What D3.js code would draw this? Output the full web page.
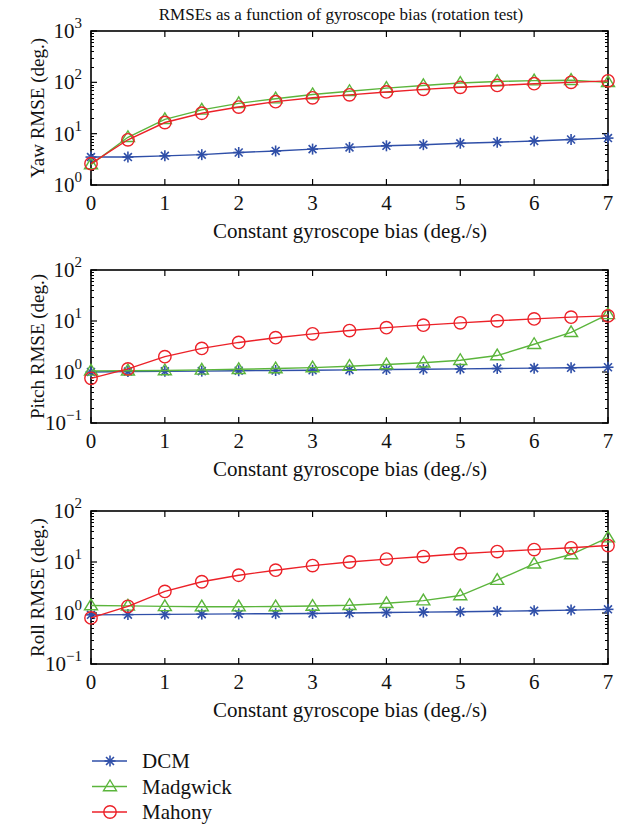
<!DOCTYPE html>
<html>
<head>
<meta charset="utf-8">
<script src="https://cdn.jsdelivr.net/npm/d3@7/dist/d3.min.js"></script>
<style>
  body { margin: 0; background: #fff; }
</style>
</head>
<body>
<svg id="chart" width="621" height="827"></svg>
<script>
// gyroscope bias steps (deg./s)
var bias = [0, 0.5, 1, 1.5, 2, 2.5, 3, 3.5, 4, 4.5, 5, 5.5, 6, 6.5, 7];

var yawDCM      = [3.5, 3.5, 3.7, 3.9, 4.3, 4.6, 5.0, 5.4, 5.8, 6.1, 6.5, 6.8, 7.2, 7.7, 8.2];
var yawMadgwick = [2.5, 8.5, 19, 29, 39, 48, 58, 67, 77, 87, 97, 104, 108, 110, 100];
var yawMahony   = [2.6, 7.6, 16.5, 25, 33, 42, 50, 57, 65, 73, 80, 87, 94, 100, 107];

var pitchDCM      = [1.0, 1.02, 1.03, 1.04, 1.06, 1.07, 1.08, 1.1, 1.12, 1.13, 1.15, 1.17, 1.19, 1.21, 1.24];
var pitchMadgwick = [1.05, 1.06, 1.07, 1.1, 1.13, 1.17, 1.22, 1.3, 1.4, 1.52, 1.7, 2.1, 3.5, 6.0, 13.5];
var pitchMahony   = [0.75, 1.15, 2.0, 2.9, 3.8, 4.7, 5.6, 6.5, 7.4, 8.3, 9.2, 10.1, 11.0, 11.9, 12.6];

var rollDCM      = [0.92, 0.93, 0.94, 0.95, 0.96, 0.97, 0.98, 1.0, 1.02, 1.04, 1.06, 1.08, 1.11, 1.14, 1.18];
var rollMadgwick = [1.4, 1.38, 1.35, 1.33, 1.33, 1.34, 1.37, 1.42, 1.55, 1.75, 2.2, 4.4, 9.2, 14, 30];
var rollMahony   = [0.8, 1.35, 2.65, 4.1, 5.5, 6.9, 8.5, 10, 11.4, 12.8, 14.5, 16, 17.5, 19, 21];

var methods = ['DCM', 'Madgwick', 'Mahony'];
var xTicks = [0, 1, 2, 3, 4, 5, 6, 7];

var colors = { DCM: '#2f4fa8', Madgwick: '#5bb53c', Mahony: '#ec2128' };
var FONT = 'Liberation Serif';

var panels = [
  { label: 'Yaw RMSE (deg.)',   top: 31,  bottom: 185, domain: [1, 1000], series: [yawDCM, yawMadgwick, yawMahony] },
  { label: 'Pitch RMSE (deg.)', top: 270, bottom: 423, domain: [0.1, 100], series: [pitchDCM, pitchMadgwick, pitchMahony] },
  { label: 'Roll RMSE (deg.)',  top: 511, bottom: 664, domain: [0.1, 100], series: [rollDCM, rollMadgwick, rollMahony] }
];

var svg = d3.select('#chart');
var left = 91, right = 608;

function label(sel, size){
  return sel.append('text')
    .attr('font-family', FONT)
    .attr('font-size', size)
    .attr('fill', '#111');
}

label(svg, 17)
  .attr('x', 341).attr('y', 20)
  .attr('text-anchor', 'middle')
  .text('RMSEs as a function of gyroscope bias (rotation test)');

function drawMarker(g, name, cx, cy){
  var c = colors[name];
  if (name === 'DCM') {
    var r = 5.5, d = r * 0.72;
    [[-r,0,r,0],[0,-r,0,r],[-d,-d,d,d],[-d,d,d,-d]].forEach(function(s){
      g.append('line')
        .attr('x1', cx + s[0]).attr('y1', cy + s[1])
        .attr('x2', cx + s[2]).attr('y2', cy + s[3])
        .attr('stroke', c).attr('stroke-width', 1.6);
    });
  } else if (name === 'Madgwick') {
    var h = 6.5;
    g.append('path')
      .attr('d', 'M' + cx + ',' + (cy - h) + 'L' + (cx + h) + ',' + (cy + h * 0.65) + 'L' + (cx - h) + ',' + (cy + h * 0.65) + 'Z')
      .attr('fill', 'none').attr('stroke', c).attr('stroke-width', 1.4);
  } else {
    g.append('circle')
      .attr('cx', cx).attr('cy', cy).attr('r', 6.2)
      .attr('fill', 'none').attr('stroke', c).attr('stroke-width', 1.4);
  }
}

var x = d3.scaleLinear().domain([0, 7]).range([left, right]);

panels.forEach(function(p){
  var y = d3.scaleLog().domain(p.domain).range([p.bottom, p.top]);
  var g = svg.append('g');

  // log ticks: majors at decades, minors at 2..9
  var decades = d3.range(Math.log10(p.domain[0]), Math.log10(p.domain[1]) + 1);
  var minors = [];
  decades.slice(0, -1).forEach(function(e){
    for (var k = 2; k < 10; k++) minors.push(k * Math.pow(10, e));
  });

  minors.forEach(function(v){
    var yy = Math.round(y(v)) + 0.5;
    g.append('line').attr('x1', left).attr('x2', left + 3).attr('y1', yy).attr('y2', yy)
      .attr('stroke', '#000').attr('stroke-width', 1);
    g.append('line').attr('x1', right - 3).attr('x2', right).attr('y1', yy).attr('y2', yy)
      .attr('stroke', '#000').attr('stroke-width', 1);
  });

  decades.forEach(function(e){
    var yy = y(Math.pow(10, e));
    g.append('line').attr('x1', left).attr('x2', left + 6).attr('y1', yy).attr('y2', yy)
      .attr('stroke', '#000').attr('stroke-width', 1.2);
    g.append('line').attr('x1', right - 6).attr('x2', right).attr('y1', yy).attr('y2', yy)
      .attr('stroke', '#000').attr('stroke-width', 1.2);
    var t = label(g, 21)
      .attr('x', 82).attr('y', yy + 7)
      .attr('text-anchor', 'end');
    t.append('tspan').text('10');
    t.append('tspan').attr('dy', -10).attr('font-size', 15).text(e < 0 ? '\u2212' + (-e) : e);
  });

  xTicks.forEach(function(v){
    var xx = x(v);
    g.append('line').attr('x1', xx).attr('x2', xx).attr('y1', p.bottom).attr('y2', p.bottom - 6)
      .attr('stroke', '#000').attr('stroke-width', 1.2);
    g.append('line').attr('x1', xx).attr('x2', xx).attr('y1', p.top).attr('y2', p.top + 6)
      .attr('stroke', '#000').attr('stroke-width', 1.2);
    label(g, 21)
      .attr('x', xx).attr('y', p.bottom + 25)
      .attr('text-anchor', 'middle')
      .text(v);
  });

  g.append('rect')
    .attr('x', left).attr('y', p.top)
    .attr('width', right - left).attr('height', p.bottom - p.top)
    .attr('fill', 'none').attr('stroke', '#000').attr('stroke-width', 1.6);

  label(g, 21)
    .attr('x', 350).attr('y', p.bottom + 53)
    .attr('text-anchor', 'middle')
    .text('Constant gyroscope bias (deg./s)');

  label(g, 19)
    .attr('transform', 'translate(44,' + ((p.top + p.bottom) / 2) + ') rotate(-90)')
    .attr('text-anchor', 'middle')
    .text(p.label);

  var line = d3.line()
    .x(function(d, i){ return x(bias[i]); })
    .y(function(d){ return y(d); });

  p.series.forEach(function(vals, si){
    var name = methods[si];
    g.append('path')
      .attr('d', line(vals))
      .attr('fill', 'none')
      .attr('stroke', colors[name])
      .attr('stroke-width', 1.4);
    vals.forEach(function(v, i){ drawMarker(g, name, x(bias[i]), y(v)); });
  });
});

// legend
var legendY = d3.scalePoint().domain(methods).range([761, 812]);
methods.forEach(function(name){
  var yy = legendY(name);
  svg.append('line')
    .attr('x1', 92).attr('x2', 127).attr('y1', yy).attr('y2', yy)
    .attr('stroke', colors[name]).attr('stroke-width', 1.4);
  drawMarker(svg, name, 110, yy);
  label(svg, 21)
    .attr('x', 142).attr('y', yy + 7)
    .text(name);
});
</script>
</body>
</html>
